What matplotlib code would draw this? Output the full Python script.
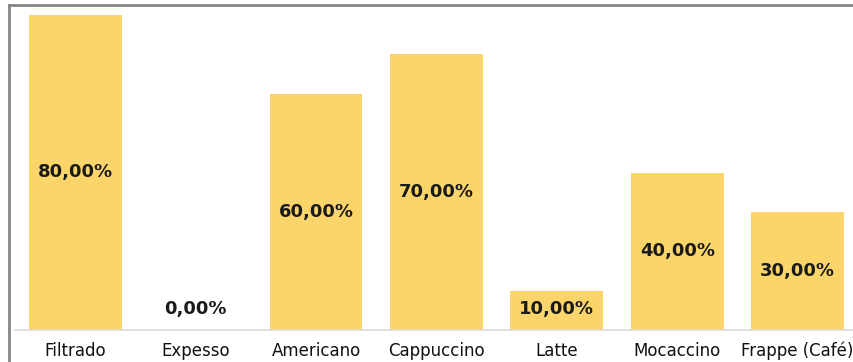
import matplotlib
matplotlib.use("Agg")
import matplotlib.pyplot as plt
from matplotlib.lines import Line2D

categories = ["Filtrado", "Expesso", "Americano", "Cappuccino", "Latte", "Mocaccino", "Frappe (Café)"]
values = [80, 0, 60, 70, 10, 40, 30]
value_labels = ["80,00%", "0,00%", "60,00%", "70,00%", "10,00%", "40,00%", "30,00%"]

plt.rcParams["font.family"] = ["DejaVu Sans"]

W, H = 854, 362
fig = plt.figure(figsize=(W / 100, H / 100), dpi=100)
fig.patch.set_facecolor("white")

# plot area: baseline at y=330 px, 80 % at y=15 px, categories spaced ~120.4 px
left_px, base_px, top_px = 15, 330, 15
width_px = 7 * 120.4
ax = fig.add_axes([left_px / W, (H - base_px) / H, width_px / W, (base_px - top_px) / H])
ax.set_xlim(-0.5, 6.5)
ax.set_ylim(0, 80)

x = range(len(categories))
ax.bar(x, values, width=0.77, color="#FCD56A", zorder=2)

for xi, v, lab in zip(x, values, value_labels):
    ax.text(xi, max(v / 2, 5.4), lab, ha="center", va="center",
            fontsize=13, fontweight="bold", color="#1a1a1a", zorder=3)

for s in ["top", "right", "left"]:
    ax.spines[s].set_visible(False)
ax.spines["bottom"].set_color("#d9d9d9")
ax.spines["bottom"].set_linewidth(1.2)
ax.set_yticks([])
ax.set_xticks(list(x))
ax.set_xticklabels(categories, fontsize=12, color="#111111")
ax.tick_params(axis="x", length=0, pad=8.5)

# chart frame (top and left edges)
fx, fy = 8.5 / W, 1 - 4.5 / H
fig.add_artist(Line2D([fx, fx], [0, fy], transform=fig.transFigure, color="#858585", lw=2))
fig.add_artist(Line2D([fx, 1], [fy, fy], transform=fig.transFigure, color="#858585", lw=2))

fig.savefig("out.png", dpi=100)
